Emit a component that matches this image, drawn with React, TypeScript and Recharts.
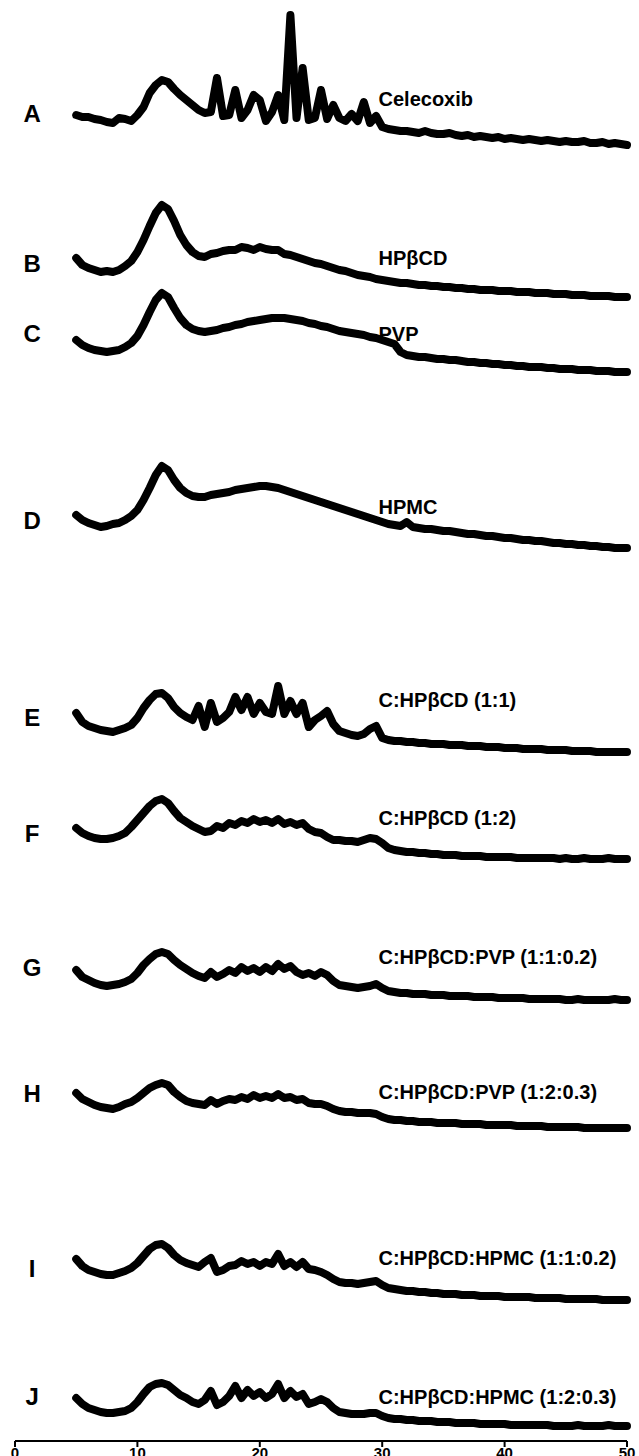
import React from "react";
import { LineChart, Line, XAxis, YAxis, ReferenceDot } from "recharts";

// 2-theta grid (degrees), one reading every 0.5 deg from 5 to 50
const twoTheta = Array.from({ length: 91 }, (_, i) => 5 + i * 0.5);

const traceKeys = ["A", "B", "C", "D", "E", "F", "G", "H", "I", "J"];

const sampleNames = [
  "Celecoxib",
  "HPβCD",
  "PVP",
  "HPMC",
  "C:HPβCD (1:1)",
  "C:HPβCD (1:2)",
  "C:HPβCD:PVP (1:1:0.2)",
  "C:HPβCD:PVP (1:2:0.3)",
  "C:HPβCD:HPMC (1:1:0.2)",
  "C:HPβCD:HPMC (1:2:0.3)",
];

// intensities (a.u.)
const celecoxib = [
  30, 28, 28, 26, 25, 23, 22, 27, 26, 24, 30, 38, 52, 60, 65, 63, 56, 50, 45, 40,
  35, 32, 33, 67, 29, 30, 55, 27, 35, 50, 45, 24, 33, 50, 25, 130, 27, 77, 25, 27,
  55, 26, 40, 27, 24, 31, 24, 43, 22, 29, 18, 16, 15, 14, 14, 13, 12, 14, 12, 11,
  11, 12, 10, 9, 10, 8, 9, 8, 7, 8, 6, 7, 6, 5, 6, 5, 4, 5, 4, 3,
  4, 3, 3, 4, 2, 2, 3, 1, 2, 1, 0,
];
const hpbcd = [
  39, 32, 29, 27, 25, 26, 25, 27, 31, 36, 45, 57, 71, 84, 92, 88, 76, 62, 52, 45,
  41, 40, 43, 44, 46, 47, 47, 50, 49, 47, 50, 48, 47, 47, 43, 42, 40, 38, 36, 34,
  33, 31, 29, 27, 26, 24, 22, 21, 20, 18, 17, 16, 15, 14, 14, 13, 12, 12, 11, 11,
  10, 10, 9, 9, 8, 8, 7, 7, 7, 6, 6, 6, 5, 5, 5, 4, 4, 4, 3, 3,
  3, 2, 2, 2, 1, 1, 1, 1, 0, 0, 0,
];
const pvp = [
  32, 27, 24, 22, 21, 20, 21, 22, 25, 29, 36, 47, 60, 72, 79, 75, 64, 54, 47, 43,
  41, 40, 41, 42, 44, 45, 47, 48, 50, 51, 52, 53, 54, 54, 54, 53, 52, 51, 49, 48,
  46, 45, 43, 41, 40, 39, 38, 37, 35, 34, 32, 30, 28, 20, 17, 16, 15, 15, 14, 13,
  13, 12, 12, 11, 10, 10, 9, 9, 8, 8, 7, 7, 6, 6, 5, 5, 5, 4, 4, 3,
  3, 3, 2, 2, 2, 1, 1, 1, 0, 0, 0,
];
const hpmc = [
  33, 28, 25, 23, 21, 22, 24, 25, 28, 32, 38, 48, 60, 73, 82, 78, 68, 60, 55, 52,
  51, 51, 53, 54, 55, 56, 58, 59, 60, 61, 62, 62, 61, 60, 58, 56, 54, 52, 50, 48,
  46, 44, 42, 40, 38, 36, 34, 32, 30, 28, 26, 24, 23, 22, 26, 21, 20, 19, 19, 18,
  17, 17, 16, 15, 14, 14, 13, 12, 12, 11, 10, 10, 9, 8, 8, 7, 7, 6, 5, 5,
  4, 4, 3, 3, 2, 2, 1, 1, 0, 0, 0,
];
const cd11 = [
  39, 30, 26, 24, 22, 21, 20, 22, 24, 27, 34, 44, 52, 58, 59, 54, 45, 39, 35, 32,
  46, 25, 49, 30, 34, 40, 55, 42, 55, 38, 49, 40, 38, 66, 38, 51, 38, 49, 25, 32,
  36, 41, 28, 21, 19, 17, 16, 18, 23, 26, 14, 12, 11, 11, 10, 10, 9, 9, 8, 8,
  8, 7, 7, 7, 6, 6, 6, 5, 5, 5, 4, 4, 4, 3, 3, 3, 3, 2, 2, 2,
  2, 1, 1, 1, 1, 0, 0, 0, 0, 0, 0,
];
const cd12 = [
  31, 26, 23, 21, 20, 20, 21, 23, 26, 32, 39, 46, 53, 58, 60, 56, 48, 41, 37, 33,
  30, 27, 28, 33, 31, 36, 34, 38, 36, 40, 37, 39, 36, 40, 35, 37, 34, 36, 30, 27,
  26, 22, 19, 19, 18, 18, 17, 19, 21, 20, 16, 11, 9, 8, 7, 7, 6, 6, 5, 5,
  4, 4, 4, 3, 3, 3, 3, 2, 2, 2, 2, 2, 1, 1, 1, 1, 1, 1, 1, 0,
  1, 0, 0, 1, 0, 0, 0, 1, 0, 0, 0,
];
const cdPvp1 = [
  30, 23, 20, 17, 15, 14, 15, 16, 18, 21, 27, 35, 41, 46, 48, 46, 40, 35, 31, 27,
  24, 22, 28, 23, 26, 30, 27, 33, 29, 32, 28, 33, 29, 36, 31, 34, 28, 25, 27, 24,
  28, 25, 19, 15, 14, 13, 12, 13, 14, 16, 12, 9, 8, 7, 7, 6, 6, 6, 5, 5,
  5, 4, 4, 4, 4, 3, 3, 3, 3, 2, 2, 2, 2, 2, 1, 1, 1, 1, 1, 1,
  0, 0, 1, 0, 0, 0, 0, 0, 1, 0, 0,
];
const cdPvp2 = [
  35, 29, 26, 23, 21, 20, 19, 21, 24, 26, 30, 35, 40, 43, 45, 43, 36, 31, 27, 25,
  24, 23, 28, 24, 27, 29, 28, 31, 29, 33, 30, 32, 30, 34, 30, 31, 28, 29, 25, 24,
  24, 22, 19, 17, 16, 16, 15, 15, 15, 14, 11, 9, 8, 8, 7, 7, 6, 6, 6, 5,
  5, 5, 5, 4, 4, 4, 4, 3, 3, 3, 3, 3, 2, 2, 2, 2, 2, 1, 1, 1,
  1, 1, 1, 0, 0, 0, 0, 0, 0, 0, 0,
];
const cdHpmc1 = [
  41, 34, 30, 28, 26, 25, 25, 27, 29, 32, 37, 44, 51, 55, 56, 52, 45, 40, 37, 35,
  33, 38, 42, 28, 30, 34, 35, 39, 36, 38, 34, 38, 36, 46, 34, 38, 33, 38, 31, 30,
  28, 25, 21, 18, 17, 17, 16, 17, 18, 19, 15, 12, 11, 10, 9, 9, 8, 8, 7, 7,
  6, 6, 6, 5, 5, 5, 4, 4, 4, 4, 3, 3, 3, 3, 3, 2, 2, 2, 2, 2,
  1, 1, 1, 1, 1, 1, 0, 0, 0, 0, 0,
];
const cdHpmc2 = [
  28, 22, 18, 16, 14, 13, 13, 14, 15, 18, 24, 32, 39, 42, 43, 41, 36, 31, 28, 24,
  22, 26, 35, 21, 24, 30, 40, 28, 36, 30, 34, 28, 32, 42, 28, 35, 29, 32, 22, 24,
  27, 24, 18, 14, 13, 12, 12, 12, 13, 13, 10, 8, 7, 7, 6, 6, 5, 5, 5, 4,
  4, 4, 3, 3, 3, 3, 2, 2, 2, 2, 2, 1, 1, 1, 1, 1, 1, 1, 0, 0,
  0, 0, 1, 0, 0, 0, 0, 1, 0, 0, 0,
];

const patterns = [celecoxib, hpbcd, pvp, hpmc, cd11, cd12, cdPvp1, cdPvp2, cdHpmc1, cdHpmc2];

// vertical stacking offset of each pattern (same units as intensity)
const offsets = [1296, 1144, 1069, 893, 689, 582, 441, 313, 141, 15];
// label heights above each pattern's baseline
const letterRise = [32, 34, 39, 28, 35, 26, 33, 35, 32, 30];
const nameRise = [46, 39, 38, 41, 52, 41, 43, 36, 42, 29];

const xTicks = [0, 10, 20, 30, 40, 50];

const W = 639;
const H = 1456;
const AXIS_H = 15;

const rows = twoTheta.map((x, i) => {
  const row: Record<string, number> = { x };
  traceKeys.forEach((k, j) => {
    row[k] = offsets[j] + patterns[j][i];
  });
  return row;
});

const font = "'Liberation Sans', Arial, Helvetica, sans-serif";

export default function App() {
  return (
    <div style={{ position: "absolute", left: 0, top: 0, background: "#fff" }}>
      <LineChart
        width={W}
        height={H}
        data={rows}
        margin={{ top: 0, right: 12, left: 15, bottom: 0 }}
      >
        <XAxis
          type="number"
          dataKey="x"
          domain={[0, 50]}
          ticks={xTicks}
          height={AXIS_H}
          axisLine={{ stroke: "#000", strokeWidth: 2 }}
          tickLine={{ stroke: "#000", strokeWidth: 2 }}
          tickSize={6}
          tickMargin={0}
          tick={{ fill: "#000", fontSize: 15, fontWeight: "bold", fontFamily: font }}
          interval={0}
        />
        <YAxis hide type="number" domain={[0, H - AXIS_H]} />
        {traceKeys.map((k) => (
          <Line
            key={k}
            type="linear"
            dataKey={k}
            stroke="#000"
            strokeWidth={8}
            strokeLinejoin="round"
            strokeLinecap="round"
            dot={false}
            isAnimationActive={false}
          />
        ))}
        {traceKeys.map((k, j) => (
          <ReferenceDot
            key={"l" + k}
            x={1.4}
            y={offsets[j] + letterRise[j]}
            r={0}
            fill="none"
            stroke="none"
            label={{
              value: k,
              position: "center",
              fill: "#000",
              fontSize: 24,
              fontWeight: "bold",
              fontFamily: font,
            }}
          />
        ))}
        {sampleNames.map((n, j) => (
          <ReferenceDot
            key={"n" + j}
            x={29.7}
            y={offsets[j] + nameRise[j]}
            r={0}
            fill="none"
            stroke="none"
            label={{
              value: n,
              position: "right",
              offset: 0,
              fill: "#000",
              fontSize: 20,
              fontWeight: "bold",
              fontFamily: font,
            }}
          />
        ))}
      </LineChart>
    </div>
  );
}
